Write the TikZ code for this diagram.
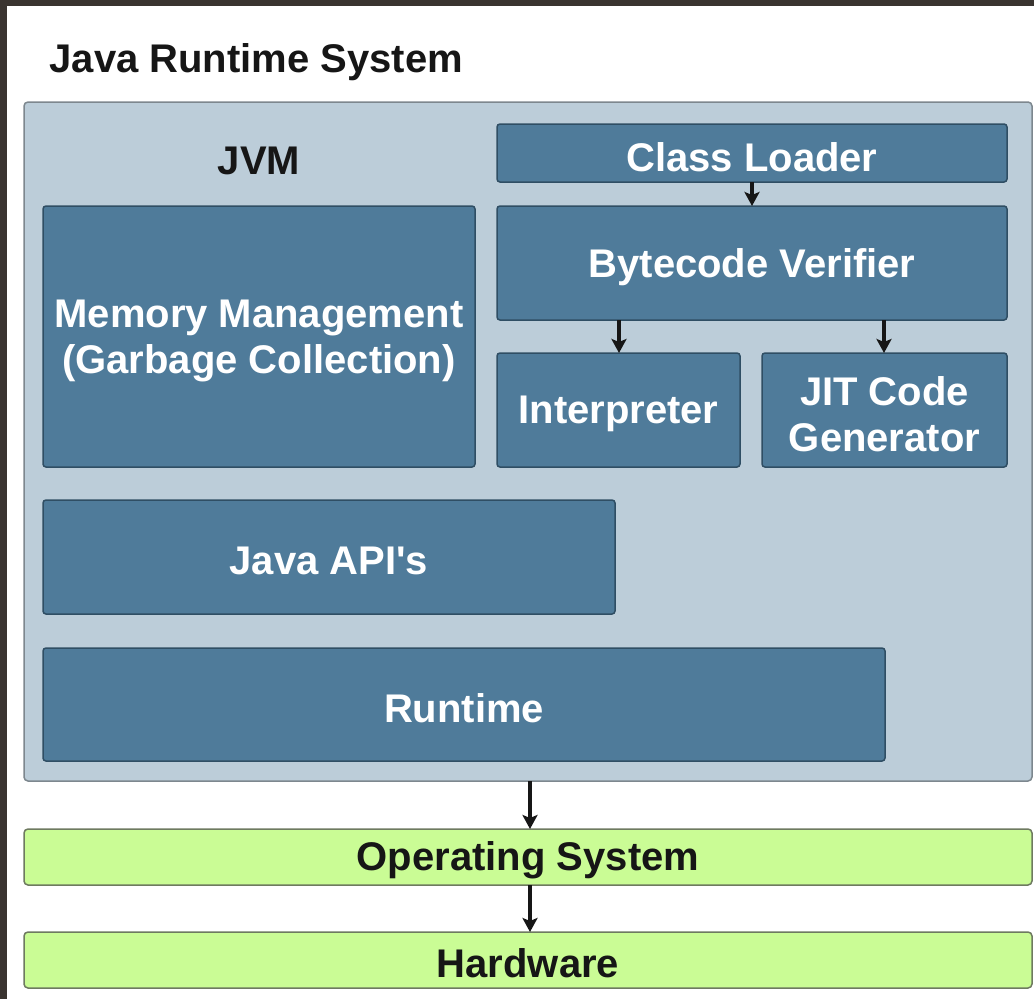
\documentclass[tikz,border=0pt]{standalone}
\usepackage{fontspec}
\setmainfont{Liberation Sans}
\usetikzlibrary{arrows.meta}
\definecolor{frame}{HTML}{3A3430}
\definecolor{jvmfill}{HTML}{BCCDD9}
\definecolor{jvmline}{HTML}{7D878E}
\definecolor{boxfill}{HTML}{4F7B9A}
\definecolor{boxline}{HTML}{2F4E64}
\definecolor{osfill}{HTML}{CAFC95}
\definecolor{osline}{HTML}{6E7A60}
\definecolor{txt}{HTML}{161616}
\tikzset{
  bigfont/.style={font=\fontsize{40}{46}\selectfont\bfseries},
  blk/.style={draw=boxline, line width=1.5pt, fill=boxfill, rounded corners=3pt,
    anchor=north west, inner sep=0pt, outer sep=0pt},
  grn/.style={draw=osline, line width=1.5pt, fill=osfill, rounded corners=4pt,
    anchor=north west, inner sep=0pt, outer sep=0pt},
  wtxt/.style={text=white, bigfont, align=center, yshift=-4pt},
  btxt/.style={text=txt, bigfont, align=center, yshift=-3pt},
  arr/.style={-{Stealth[length=14pt,width=15pt,inset=3pt]}, line width=3.4pt, color=txt}
}
\begin{document}
\begin{tikzpicture}[x=1pt,y=-1pt]
\useasboundingbox (0,0) rectangle (1034,999);
\fill[frame] (0,0) rectangle (1034,999);
\fill[white] (7,6) rectangle (1034,999);
\node[anchor=west, text=txt, bigfont] (title) at (46,62) {Java Runtime System};
\node[draw=jvmline, line width=1.5pt, fill=jvmfill, rounded corners=4pt, anchor=north west,
  inner sep=0pt, outer sep=0pt, minimum width=1008pt, minimum height=679pt] (jvm) at (24,102) {};
\node[btxt] (jvmlabel) at (259,158) {JVM};
\node[blk, minimum width=510pt, minimum height=58pt] (cl) at (497,124) {};
\node[blk, minimum width=510pt, minimum height=114pt] (bv) at (497,206) {};
\node[blk, minimum width=432pt, minimum height=261pt] (mm) at (43,206) {};
\node[blk, minimum width=243pt, minimum height=114pt] (int) at (497,353) {};
\node[blk, minimum width=245pt, minimum height=114pt] (jit) at (762,353) {};
\node[blk, minimum width=572pt, minimum height=114pt] (api) at (43,500) {};
\node[blk, minimum width=842pt, minimum height=113pt] (rt) at (43,648) {};
\node[grn, minimum width=1008pt, minimum height=56pt] (os) at (24,829) {};
\node[grn, minimum width=1008pt, minimum height=56pt] (hw) at (24,932) {};
\node[wtxt] (cltxt) at (cl.center) {Class Loader};
\node[wtxt] (bvtxt) at (bv.center) {Bytecode Verifier};
\node[wtxt] (mmtxt) at (mm.center) {Memory Management\\(Garbage Collection)};
\node[wtxt] (inttxt) at (int.center) {Interpreter};
\node[wtxt] (jittxt) at (jit.center) {JIT Code\\Generator};
\node[wtxt] (apitxt) at (api.center) {Java API\textquotesingle s};
\node[wtxt] (rttxt) at (rt.center) {Runtime};
\node[btxt] (ostxt) at (os.center) {Operating System};
\node[btxt] (hwtxt) at (hw.center) {Hardware};
\draw[arr] (752,0 |- cl.south) -- (752,0 |- bv.north);
\draw[arr] (619,0 |- bv.south) -- (619,0 |- int.north);
\draw[arr] (884,0 |- bv.south) -- (884,0 |- jit.north);
\draw[arr] (530,0 |- jvm.south) -- (530,0 |- os.north);
\draw[arr] (530,0 |- os.south) -- (530,0 |- hw.north);
\end{tikzpicture}
\end{document}
